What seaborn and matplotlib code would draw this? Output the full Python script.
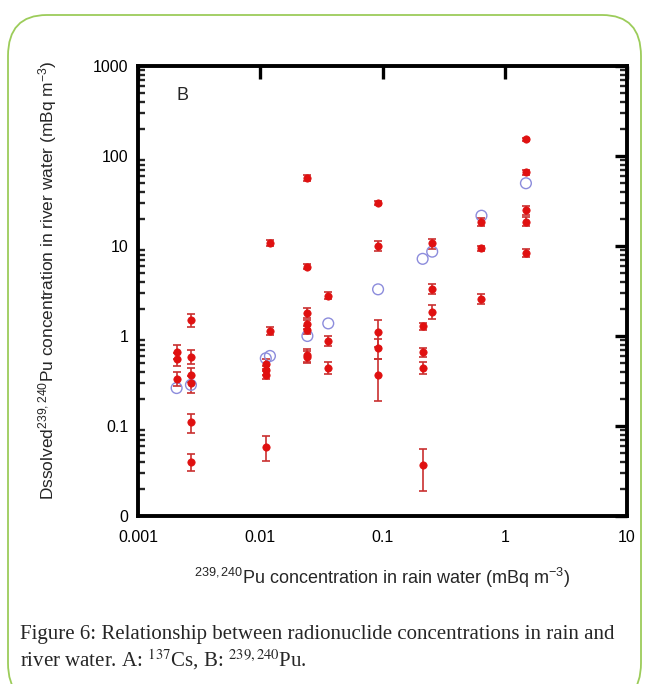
import matplotlib
matplotlib.use("Agg")
import matplotlib.pyplot as plt
import matplotlib.ticker as mticker
from matplotlib.patches import FancyBboxPatch
import numpy as np
import pandas as pd
import seaborn as sns

# ---- data ----
red_x = [0.00207, 0.00207, 0.00207,
         0.00271, 0.00271, 0.00271, 0.00271, 0.00271, 0.00271,
         0.0111, 0.0111, 0.0111, 0.0111,
         0.012, 0.012,
         0.0243, 0.0243, 0.0243, 0.0243, 0.0243, 0.0243, 0.0243,
         0.036, 0.036, 0.036,
         0.092, 0.092, 0.092, 0.092, 0.092,
         0.213, 0.213, 0.213, 0.213,
         0.255, 0.255, 0.255,
         0.645, 0.645, 0.645,
         1.49, 1.49, 1.49, 1.49, 1.49]
red_y = [0.66, 0.555, 0.333,
         1.51, 0.589, 0.372, 0.298, 0.111, 0.040,
         0.489, 0.419, 0.369, 0.0589,
         10.9, 1.13,
         57.4, 5.9, 1.82, 1.35, 1.17, 0.615, 0.58,
         2.8, 0.887, 0.445,
         30.3, 10.1, 1.1, 0.74, 0.372,
         1.29, 0.664, 0.441, 0.0372,
         10.9, 3.3, 1.83,
         18.5, 9.5, 2.6,
         153, 65.9, 25, 18.6, 8.4]
red_lo = [0.55, 0.47, 0.28,
          1.27, 0.49, 0.31, 0.23, 0.083, 0.032,
          0.43, 0.37, 0.33, 0.041,
          10.0, 1.02,
          53, 5.5, 1.6, 1.2, 1.05, 0.52, 0.50,
          2.55, 0.78, 0.38,
          28.5, 8.9, 0.75, 0.555, 0.19,
          1.18, 0.59, 0.38, 0.0188,
          9.3, 2.9, 1.55,
          16.5, 8.9, 2.25,
          145, 62, 22, 16.5, 7.6]
red_hi = [0.80, 0.65, 0.40,
          1.76, 0.70, 0.44, 0.36, 0.135, 0.049,
          0.55, 0.47, 0.41, 0.078,
          11.8, 1.25,
          62, 6.3, 2.05, 1.5, 1.3, 0.72, 0.68,
          3.1, 1.0, 0.52,
          32, 11.4, 1.51, 0.93, 0.555,
          1.4, 0.74, 0.51, 0.056,
          12.0, 3.75, 2.2,
          20.5, 10.1, 2.95,
          160, 70, 28, 21, 9.2]

blue_x = [0.00207, 0.00271, 0.0111, 0.012, 0.0243, 0.036, 0.092, 0.213, 0.255, 0.645, 1.49]
blue_y = [0.264, 0.286, 0.565, 0.6, 1.0, 1.38, 3.3, 7.2, 8.65, 21.7, 49.8]

x_ticks = [0.001, 0.01, 0.1, 1, 10]
x_ticklabels = ["0.001", "0.01", "0.1", "1", "10"]
y_ticks = [0.01, 0.1, 1, 10, 100, 1000]
y_ticklabels = ["0", "0.1", "1", "10", "100", "1000"]

red_df = pd.DataFrame({"x": red_x, "y": red_y, "lo": red_lo, "hi": red_hi})
blue_df = pd.DataFrame({"x": blue_x, "y": blue_y})

# ---- figure ----
sns.set_theme(style="white")
plt.rcParams["font.family"] = ["Liberation Sans", "DejaVu Sans"]
plt.rcParams["mathtext.fontset"] = "custom"
plt.rcParams["mathtext.rm"] = "Liberation Sans"
plt.rcParams["mathtext.it"] = "Liberation Sans"

fig = plt.figure(figsize=(6.46, 6.84), dpi=100)
fig.patch.set_facecolor("white")

# rounded green frame
frame = FancyBboxPatch((8 / 646, -20 / 684), (641 - 8) / 646, (684 - 15 + 20) / 684,
                       boxstyle="round,pad=0,rounding_size=0.06",
                       transform=fig.transFigure, facecolor="none",
                       edgecolor="#9ccc5a", linewidth=1.3, clip_on=False)
fig.patches.append(frame)

ax = fig.add_axes([138 / 646, 1 - 516 / 684, (627 - 138) / 646, (516 - 66) / 684])
ax.set_xscale("log")
ax.set_yscale("log")
ax.set_xlim(0.001, 10)
ax.set_ylim(0.01, 1000)

# error bars
yerr = np.vstack([red_df["y"] - red_df["lo"], red_df["hi"] - red_df["y"]])
ax.errorbar(red_df["x"], red_df["y"], yerr=yerr, fmt="none", ecolor="#c93030",
            elinewidth=1.2, capsize=3, capthick=1.2, zorder=2)

sns.scatterplot(data=blue_df, x="x", y="y", ax=ax, marker="o", s=60,
                facecolors="none", edgecolor="#8c8cdc", linewidth=1.0, zorder=3)
sns.scatterplot(data=red_df, x="x", y="y", ax=ax, marker="o", s=28,
                color="#e01010", edgecolor="#e01010", linewidth=0.5, zorder=4)

ax.set_xlabel("")
ax.set_ylabel("")

# spines & ticks
for sp in ax.spines.values():
    sp.set_linewidth(2.8)
    sp.set_color("black")
    sp.set_visible(True)

ax.xaxis.set_major_locator(mticker.FixedLocator(x_ticks))
ax.xaxis.set_minor_locator(mticker.NullLocator())
ax.set_xticks(x_ticks)
ax.set_xticklabels(x_ticklabels)
ax.yaxis.set_major_locator(mticker.FixedLocator(y_ticks))
ax.set_yticks(y_ticks)
ax.set_yticklabels(y_ticklabels)
ax.yaxis.set_minor_locator(mticker.LogLocator(base=10, subs=np.arange(2, 10), numticks=20))
ax.yaxis.set_minor_formatter(mticker.NullFormatter())

ax.tick_params(axis="both", which="major", direction="in", length=9, width=2.4,
               top=True, right=True, labelsize=11.5, pad=7, colors="black")
ax.tick_params(axis="y", which="minor", direction="in", length=5, width=1.7,
               left=True, right=True)
ax.tick_params(axis="x", which="major", pad=10)

ax.text(0.09, 0.935, "B", transform=ax.transAxes, fontsize=13, ha="center", va="center")

fig.text(382 / 646, 1 - 578 / 684,
         r"$^{239,240}$Pu concentration in rain water (mBq m$^{-3}$)",
         ha="center", va="center", fontsize=13)
fig.text(48 / 646, 1 - 280 / 684,
         r"Dssolved$^{239,240}$Pu concentration in river water (mBq m$^{-3}$)",
         ha="center", va="center", rotation=90, fontsize=12.5)

cap_font = ["Liberation Serif", "DejaVu Serif"]
fig.text(20 / 646, 1 - 634 / 684,
         "Figure 6: Relationship between radionuclide concentrations in rain and",
         ha="left", va="center", fontsize=15, family=cap_font)
fig.text(20 / 646, 1 - 660 / 684,
         "river water. A: $^{137}$Cs, B: $^{239,240}$Pu.",
         ha="left", va="center", fontsize=15, family=cap_font,
         math_fontfamily="stix")

fig.savefig("out.png", dpi=100)
